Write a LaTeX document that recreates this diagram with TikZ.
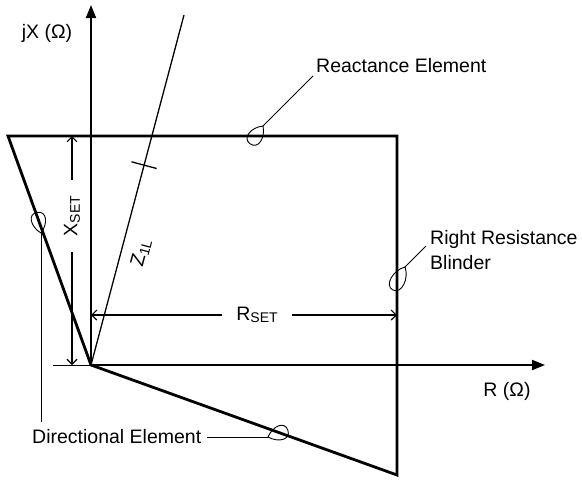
\documentclass[tikz,border=0pt]{standalone}
\usepackage{fontspec}
\setmainfont{Liberation Sans}
\usetikzlibrary{arrows.meta,positioning,calc}
\tikzset{
  zone/.style={line width=2.8pt,line join=miter},
  axis/.style={line width=1.9pt,-{Triangle[length=13pt,width=10pt]}},
  imp/.style={line width=1.3pt},
  dimhead/.style={line width=1.1pt,-{Straight Barb[length=5pt,width=10pt]}},
  leader/.style={line width=0.9pt},
  lbl/.style={inner sep=0pt,text=black},
  pics/drop/.style={code={\draw[leader] (0,0) .. controls (8,9) and (#1,10) .. (#1,0) .. controls (#1,-10) and (8,-9) .. (0,0);}}
}
\newcommand{\Sub}[1]{\raisebox{-2.7pt}{\fontsize{14}{16}\selectfont #1}}

\begin{document}
\begin{tikzpicture}[x=1pt,y=-1pt,font=\fontsize{19.5}{25}\selectfont]
  \useasboundingbox (0,0) rectangle (582,480);
  % corners of the zone
  \coordinate (O) at (91,365);
  \coordinate (TL) at (8,136);
  \coordinate (TR) at (397,136);
  \coordinate (BR) at (397,475);
  \coordinate (yend) at (91,5);
  \coordinate (xend) at (545,365);
  \coordinate (ext) at (53,365);
  \coordinate (Zend) at (184,15);

  % labels
  \node[lbl] (jx) at (47,33) {jX (Ω)};
  \node[lbl] (rax) at (507,391) {R (Ω)};
  \node[lbl,anchor=west] (react) at (316,66) {Reactance Element};
  \node[lbl,anchor=west,align=left] (blinder) at (430,250) {Right Resistance\\Blinder};
  \node[lbl,anchor=west] (dir) at (32,437) {Directional Element};
  \node[lbl,rotate=90,inner xsep=15.5pt] (xset) at (72,216) {X\Sub{SET}};
  \node[lbl,inner xsep=14pt] (rset) at (257,315) {R\Sub{SET}};
  \node[lbl,rotate=75] (zl) at (141,253) {Z\Sub{1L}};

  % axes and line impedance
  \draw[leader] (ext) -- (O);
  \draw[axis] (O) -- (yend);
  \draw[axis] (O) -- (xend);
  \draw[imp] (O) -- (Zend);
  \coordinate (zm) at ($(O)!0.571!(Zend)$);
  \draw[imp] ($(zm)!13pt!90:(Zend)$) -- ($(zm)!13pt!-90:(Zend)$);

  % quadrilateral characteristic
  \draw[zone] (TL) -- (O) -- (BR) -- (TR) -- cycle;

  % settings
  \coordinate (xtop) at (72,136);
  \coordinate (xbot) at (72,365);
  \coordinate (rl) at (91,315);
  \coordinate (rr) at (397,315);
  \draw[dimhead] (xset) -- (xtop);
  \draw[dimhead] (xset) -- (xbot);
  \draw[dimhead] (rset) -- (rl);
  \draw[dimhead] (rset) -- (rr);

  % leaders
  \coordinate (tipR) at (263,126);
  \coordinate (tipB) at (405,267);
  \coordinate (tipL) at (41,233);
  \coordinate (tipD) at (268,437);
  \coordinate (dl) at (41,422);
  \draw[leader] ([shift={(-3,3)}]react.base west) -- (tipR);
  \draw[leader] ([shift={(-4,-4)}]blinder.west) -- (tipB);
  \draw[leader] ([xshift=6pt]dir.east) -- (tipD);
  \draw[leader] (tipL) -- (dl);
  \path (tipR) pic[rotate=234] {drop=22};
  \path (tipB) pic[rotate=242] {drop=26};
  \path (tipL) pic[rotate=101] {drop=21};
  \path (tipD) pic[rotate=19] {drop=21};
\end{tikzpicture}
\end{document}
